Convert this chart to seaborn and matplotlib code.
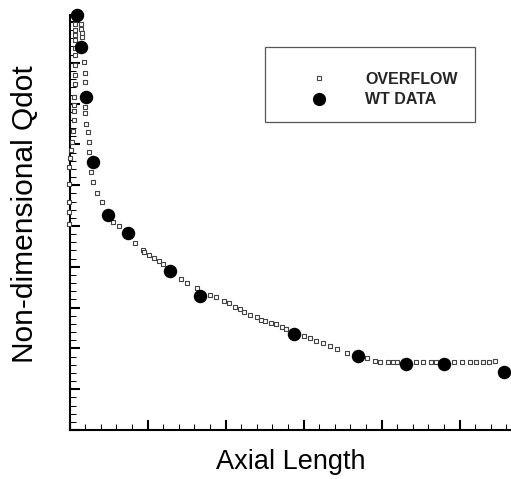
import numpy as np
import pandas as pd
import matplotlib
matplotlib.use("Agg")
import matplotlib.pyplot as plt
import seaborn as sns
from matplotlib.ticker import MultipleLocator, AutoMinorLocator
from matplotlib.lines import Line2D
from matplotlib.patches import Rectangle

# OVERFLOW solution - branch hugging the axis near x=0
ovf_x_left = [0.067, 0.067, 0.067, 0.067, 0.067, 0.067, 0.067, 0.067, 0.067,
              0.054, 0.054, 0.054, 0.054, 0.041, 0.032, 0.023, 0.010,
              -0.003, -0.003, -0.010, -0.010, -0.010]
ovf_y_left = [9.95, 9.80, 9.68, 9.56, 9.36, 9.19, 8.95, 8.70, 8.47,
              8.15, 7.97, 7.82, 7.60, 7.32, 7.06, 6.86, 6.66,
              6.45, 6.03, 5.60, 5.34, 5.05]

# OVERFLOW solution - main curve
ovf_x_main = [0.144, 0.151, 0.156, 0.156, 0.182, 0.195, 0.203, 0.203, 0.203, 0.212,
              0.237, 0.246, 0.246, 0.279, 0.297, 0.353, 0.417, 0.562, 0.638, 0.840,
              0.946, 0.959, 1.023, 1.083, 1.144, 1.195, 1.429, 1.510, 1.631, 1.801,
              1.878, 1.985, 2.049, 2.122, 2.186, 2.241, 2.314, 2.408, 2.455, 2.506,
              2.583, 2.644, 2.728, 2.776, 3.006, 3.083, 3.164, 3.254, 3.344, 3.426,
              3.564, 3.814, 3.923, 3.987, 4.087, 4.144, 4.203, 4.442, 4.528, 4.641,
              4.705, 4.929, 5.028, 5.138, 5.215, 5.301, 5.381, 5.455]
ovf_y_main = [9.95, 9.82, 9.72, 9.63, 9.01, 8.74, 8.52, 7.92, 7.76, 7.50,
              7.31, 7.07, 6.82, 6.33, 6.09, 5.82, 5.60, 5.11, 5.00, 4.59,
              4.41, 4.37, 4.29, 4.21, 4.14, 4.06, 3.69, 3.60, 3.47, 3.31,
              3.27, 3.16, 3.11, 3.02, 2.96, 2.89, 2.82, 2.76, 2.70, 2.68,
              2.63, 2.59, 2.53, 2.48, 2.30, 2.25, 2.19, 2.14, 2.05, 1.99,
              1.88, 1.76, 1.70, 1.67, 1.66, 1.66, 1.66, 1.66, 1.66, 1.66,
              1.66, 1.66, 1.66, 1.66, 1.66, 1.66, 1.66, 1.70]

# wind tunnel data
wt_x = [0.092, 0.144, 0.208, 0.298, 0.498, 0.754, 1.288, 1.673, 2.878, 3.695, 4.314, 4.801, 5.574]
wt_y = [10.17, 9.39, 8.15, 6.58, 5.27, 4.82, 3.90, 3.29, 2.36, 1.81, 1.62, 1.62, 1.43]

legend_labels = ["OVERFLOW", "WT DATA"]

ovf = pd.DataFrame({"x": ovf_x_left + ovf_x_main, "y": ovf_y_left + ovf_y_main})
wt = pd.DataFrame({"x": wt_x, "y": wt_y})

sns.set_theme(style="white")
plt.rcParams["font.family"] = ["Liberation Sans", "DejaVu Sans"]

W, H = 511, 479
fig = plt.figure(figsize=(W / 100, H / 100), dpi=100)
ax = fig.add_axes([69.5 / W, 49 / H, 441.5 / W, 415 / H])

sns.scatterplot(data=ovf, x="x", y="y", marker="s", s=11, color="white",
                edgecolor="#444444", linewidth=0.8, ax=ax, zorder=3)
sns.scatterplot(data=wt, x="x", y="y", marker="o", s=94, color="black",
                linewidth=0, ax=ax, zorder=4)
for c in ax.collections:
    c.set_clip_on(False)

ax.set_xlim(0, 441.5 / 78)
ax.set_ylim(0, 415 / 40.8)

# axis styling: inward ticks, no tick labels
for side in ["top", "right"]:
    ax.spines[side].set_visible(False)
for side in ["left", "bottom"]:
    ax.spines[side].set_linewidth(1.5)
    ax.spines[side].set_color("black")
for axis in [ax.xaxis, ax.yaxis]:
    axis.set_major_locator(MultipleLocator(1))
    axis.set_minor_locator(AutoMinorLocator(5))
ax.tick_params(which="both", direction="in", labelbottom=False, labelleft=False,
               bottom=True, left=True, top=False, right=False, color="black")
ax.tick_params(which="major", length=7.2, width=1.5)
ax.tick_params(which="minor", length=4.3, width=0.75)

ax.set_xlabel("Axial Length", fontsize=19.5, color="black")
ax.set_ylabel("Non-dimensional Qdot", fontsize=21.5, color="black")
ax.xaxis.set_label_coords(0.5, -(449 - 430) / 415)
ax.yaxis.set_label_coords((39 - 69.5) / 441.5, (430 - 214) / 415)

# legend box
x0 = (265 - 69.5) / 441.5
x1 = (475 - 69.5) / 441.5
y0 = (430 - 121.7) / 415
y1 = (430 - 46.7) / 415
ax.add_patch(Rectangle((x0, y0), x1 - x0, y1 - y0, transform=ax.transAxes,
                       facecolor="white", edgecolor="#555555", linewidth=0.9,
                       zorder=5, clip_on=False))

handles = [
    Line2D([], [], linestyle="none", marker="s", markersize=3.4, markerfacecolor="white",
           markeredgecolor="#444444", markeredgewidth=0.8),
    Line2D([], [], linestyle="none", marker="o", markersize=9.5, markerfacecolor="black",
           markeredgewidth=0),
]
leg = ax.legend(handles, legend_labels, loc="center left",
                bbox_to_anchor=((302.6 - 69.5) / 441.5, (430 - 89.5) / 415),
                frameon=False, prop={"size": 11.5, "weight": "bold"},
                handlelength=2.0, handletextpad=1.93,
                borderpad=0, borderaxespad=0, labelspacing=0.35)
leg.set_zorder(6)

fig.savefig("out.png", dpi=100)
